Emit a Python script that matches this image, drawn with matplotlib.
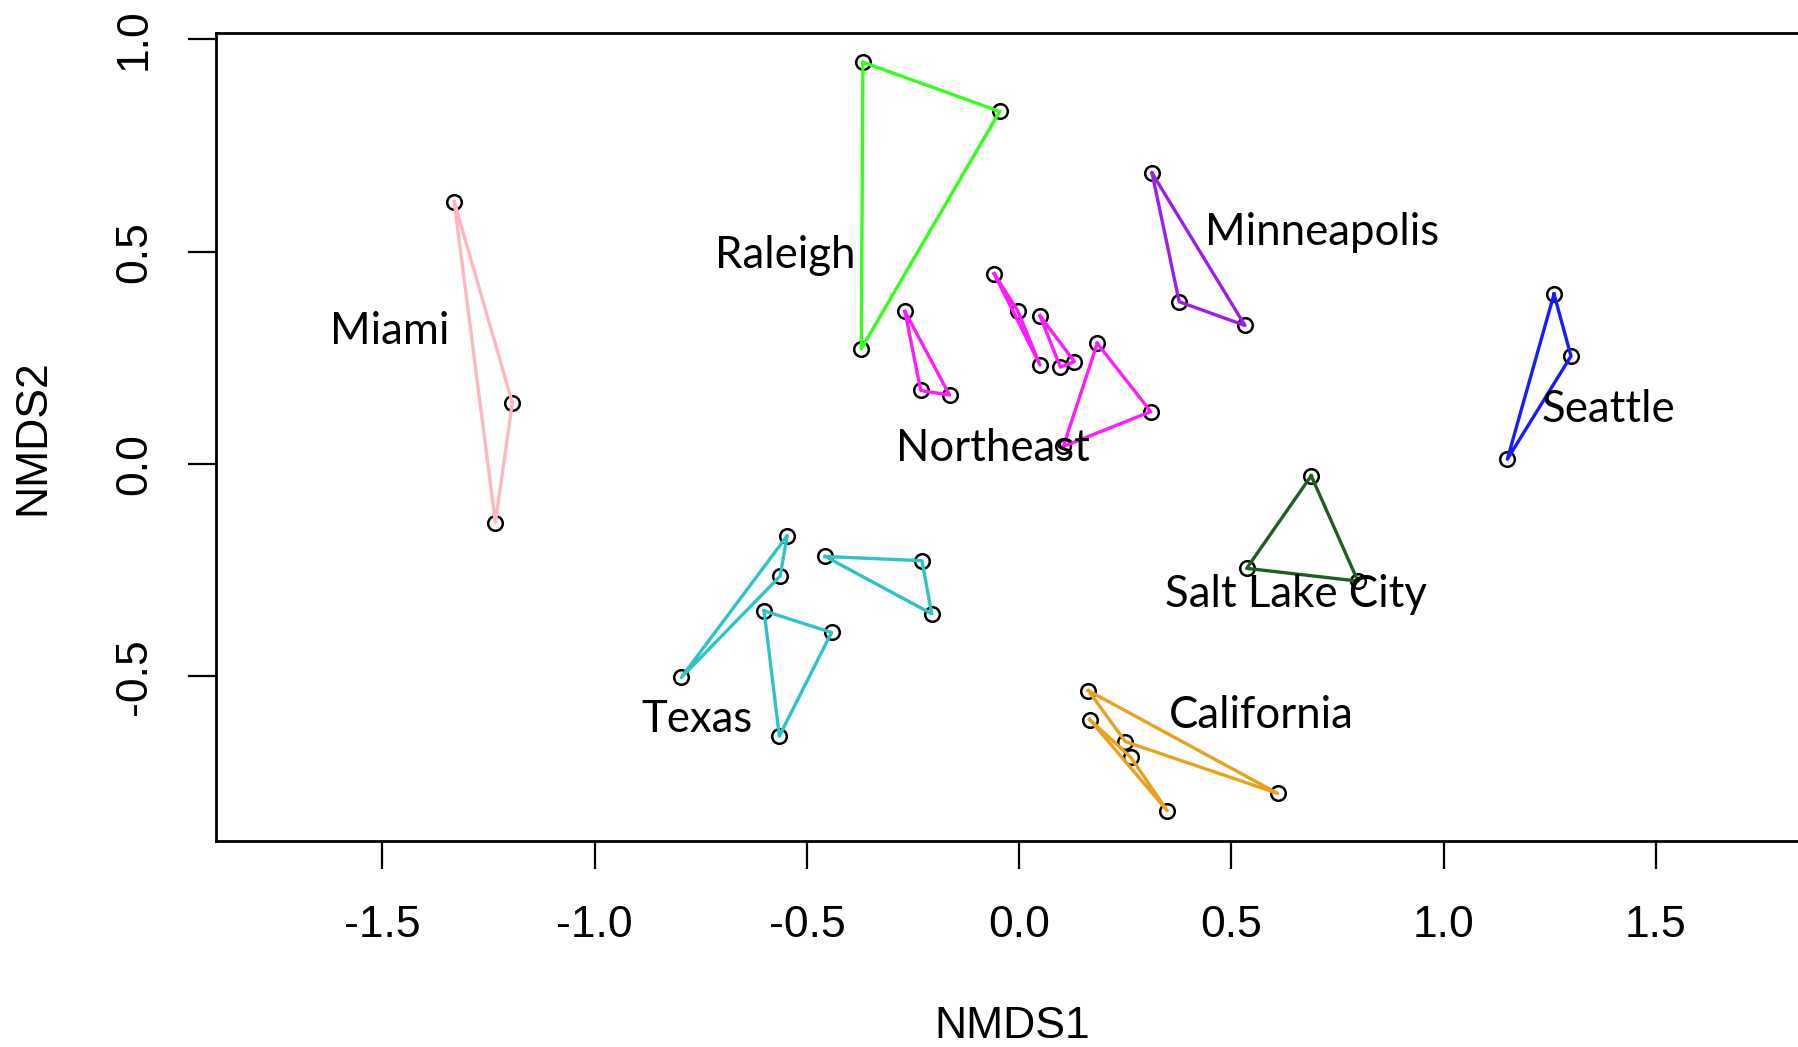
import numpy as np
import matplotlib
matplotlib.use('Agg')
import matplotlib.pyplot as plt
from matplotlib.ticker import FormatStrFormatter

plt.rcParams['font.family'] = ['Liberation Sans', 'DejaVu Sans']
plt.rcParams['axes.unicode_minus'] = False

#%% data: NMDS site scores, one list of hulls per region
miami_x = [[-1.331, -1.194, -1.234]]
miami_y = [[0.618, 0.144, -0.138]]

raleigh_x = [[-0.368, -0.046, -0.372]]
raleigh_y = [[0.946, 0.830, 0.271]]

northeast_x = [[-0.269, -0.232, -0.164],
               [-0.059, -0.003, 0.049],
               [0.049, 0.097, 0.130],
               [0.184, 0.310, 0.104]]
northeast_y = [[0.359, 0.173, 0.162],
               [0.448, 0.360, 0.233],
               [0.349, 0.228, 0.241],
               [0.284, 0.123, 0.041]]

minneapolis_x = [[0.313, 0.377, 0.532]]
minneapolis_y = [[0.685, 0.382, 0.326]]

seattle_x = [[1.260, 1.300, 1.150]]
seattle_y = [[0.400, 0.254, 0.011]]

saltlake_x = [[0.688, 0.536, 0.798]]
saltlake_y = [[-0.028, -0.246, -0.276]]

texas_x = [[-0.547, -0.563, -0.796],
           [-0.457, -0.229, -0.206],
           [-0.601, -0.442, -0.565]]
texas_y = [[-0.170, -0.264, -0.503],
           [-0.218, -0.228, -0.353],
           [-0.346, -0.397, -0.641]]

california_x = [[0.163, 0.609, 0.250],
                [0.166, 0.263, 0.349]]
california_y = [[-0.534, -0.776, -0.654],
                [-0.602, -0.691, -0.817]]

regions = ['Miami', 'Raleigh', 'Northeast', 'Minneapolis', 'Seattle',
           'Salt Lake City', 'Texas', 'California']
region_x = [miami_x, raleigh_x, northeast_x, minneapolis_x, seattle_x,
            saltlake_x, texas_x, california_x]
region_y = [miami_y, raleigh_y, northeast_y, minneapolis_y, seattle_y,
            saltlake_y, texas_y, california_y]
colours = ['#FFB6C1', '#33FF1A', '#FF1AFF', '#9B1FE8', '#1A1AFF',
           '#1E5F1E', '#2CC4C4', '#E9A21B']
# label anchor (centre) for each region
label_x = [-1.482, -0.551, -0.062, 0.713, 1.388, 0.653, -0.760, 0.570]
label_y = [0.311, 0.490, 0.036, 0.544, 0.128, -0.307, -0.601, -0.593]

#%% plot
fig = plt.figure(figsize=(17.99, 10.47), dpi=100)
ax = fig.add_axes([0.1201, 0.1968, 0.8853, 0.7717])

for xs, ys, col in zip(region_x, region_y, colours):
    for hx, hy in zip(xs, ys):
        ax.plot(hx, hy, 'o', ms=10.5, mfc='none', mec='black', mew=1.8, zorder=2)
        ax.plot(hx + hx[:1], hy + hy[:1], color=col, lw=2.4, zorder=3)

for name, lx, ly in zip(regions, label_x, label_y):
    ax.text(lx, ly, name, ha='center', va='center', fontsize=31.5,
            family=['Lato', 'DejaVu Sans'], zorder=4)

ax.set_xlim(-1.892, 1.86)
ax.set_ylim(-0.888, 1.0149)
ax.set_xticks([-1.5, -1.0, -0.5, 0.0, 0.5, 1.0, 1.5])
ax.set_yticks([-0.5, 0.0, 0.5, 1.0])
ax.xaxis.set_major_formatter(FormatStrFormatter('%.1f'))
ax.yaxis.set_major_formatter(FormatStrFormatter('%.1f'))
ax.tick_params(length=20, width=1.6, labelsize=32, direction='out')
ax.tick_params(axis='x', pad=26)
ax.tick_params(axis='y', pad=24)
for lab in ax.get_yticklabels():
    lab.set_rotation(90)
    lab.set_va('center')
for sp in ax.spines.values():
    sp.set_linewidth(2)

ax.set_xlabel('NMDS1', fontsize=32, va='center')
ax.set_ylabel('NMDS2', fontsize=32, va='center', ha='center')
ax.xaxis.set_label_coords(0.5, -0.230)
ax.yaxis.set_label_coords(-0.115, 0.5)

fig.savefig('out.png', dpi=100)
